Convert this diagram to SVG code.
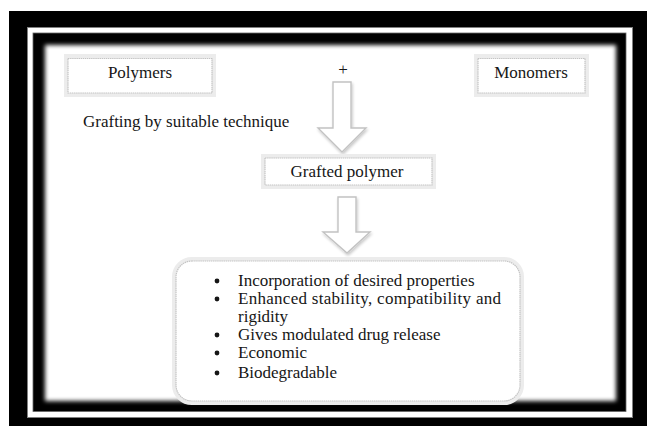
<svg xmlns="http://www.w3.org/2000/svg" width="647" height="426" viewBox="0 0 647 426">
  <defs>
    <filter id="soft" x="-5%" y="-5%" width="110%" height="110%">
      <feGaussianBlur stdDeviation="2"/>
    </filter>
    <filter id="shadow" x="-10%" y="-20%" width="120%" height="140%">
      <feGaussianBlur in="SourceAlpha" stdDeviation="1.5"/>
      <feOffset dx="1" dy="1.5" result="b"/>
      <feComponentTransfer><feFuncA type="linear" slope="0.22"/></feComponentTransfer>
      <feMerge><feMergeNode/><feMergeNode in="SourceGraphic"/></feMerge>
    </filter>
  </defs>
  <style>
    text { font-family: "Liberation Serif", "Times New Roman", serif; font-size: 17px; fill: #161616; }
    .box { fill: #ffffff; stroke: #c4c4c4; stroke-width: 1.2; stroke-dasharray: 1.5 0.6; }
    .halo { fill: none; stroke: #ececec; stroke-width: 4; }
    .arrow { fill: #ffffff; stroke: #c2c2c2; stroke-width: 1.4; stroke-linejoin: miter; }
    .bullet { fill: #161616; }
  </style>

  <!-- framed page border -->
  <g id="frame">
    <rect x="9" y="11" width="638" height="415" fill="#000"/>
    <rect x="27.5" y="27.5" width="605" height="390" fill="#fff" stroke="#808080" stroke-width="1"/>
    <rect x="33" y="33" width="593" height="378.5" fill="#000" stroke="#666" stroke-width="0.8"/>
    <rect x="45" y="45" width="571" height="356" fill="#fff" filter="url(#soft)"/>
  </g>

  <!-- block arrows -->
  <g id="connectors">
    <polygon class="arrow" filter="url(#shadow)" points="333,82 351,82 351,128 366,128 342,152 318,128 333,128"/>
    <polygon class="arrow" filter="url(#shadow)" points="338,197 356,197 356,232 370,232 347,253 323,232 338,232"/>
  </g>

  <g id="polymers">
    <rect class="halo" x="66" y="56" width="148" height="39"/>
    <rect class="box" x="68" y="58.5" width="144" height="34.5"/>
    <text x="140" y="78" text-anchor="middle">Polymers</text>
  </g>

  <g id="plus">
    <text x="343" y="75" text-anchor="middle" font-size="15">+</text>
  </g>

  <g id="monomers">
    <rect class="halo" x="476" y="56" width="111" height="39"/>
    <rect class="box" x="478" y="58.5" width="107" height="34.5"/>
    <text x="531" y="78" text-anchor="middle">Monomers</text>
  </g>

  <g id="grafting-label">
    <text x="83" y="127">Grafting by suitable technique</text>
  </g>

  <g id="grafted-polymer">
    <rect class="halo" x="263" y="156" width="171" height="31"/>
    <rect class="box" x="265" y="158" width="167" height="27"/>
    <text x="347" y="177" text-anchor="middle">Grafted polymer</text>
  </g>

  <g id="properties">
    <rect class="halo" x="174" y="259" width="348" height="144" rx="18"/>
    <rect class="box" x="176" y="261" width="344" height="140" rx="16"/>
    <circle class="bullet" cx="217" cy="281" r="2.4"/>
    <text x="238" y="286">Incorporation of desired properties</text>
    <circle class="bullet" cx="217" cy="299" r="2.4"/>
    <text x="238" y="304" textLength="263" lengthAdjust="spacing">Enhanced stability, compatibility and</text>
    <text x="238" y="322">rigidity</text>
    <circle class="bullet" cx="217" cy="335" r="2.4"/>
    <text x="238" y="340">Gives modulated drug release</text>
    <circle class="bullet" cx="217" cy="353" r="2.4"/>
    <text x="238" y="358">Economic</text>
    <circle class="bullet" cx="217" cy="373" r="2.4"/>
    <text x="238" y="378">Biodegradable</text>
  </g>
</svg>
